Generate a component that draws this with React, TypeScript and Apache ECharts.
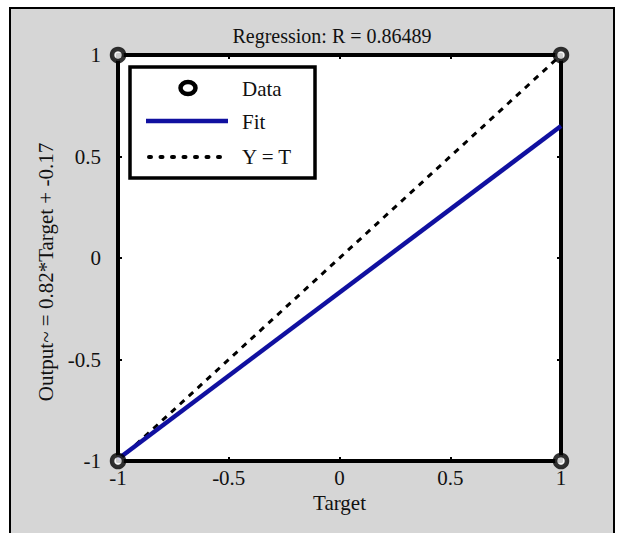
import React, { useEffect, useRef } from "react";
import * as echarts from "echarts";

const titleText = "Regression: R = 0.86489";
const xName = "Target";
const yName = "Output~ = 0.82*Target + -0.17";
const ticks = [-1, -0.5, 0, 0.5, 1];
const dataPoints: [number, number][] = [[-1, -1], [-1, 1], [1, 1], [1, -1]];
const fitLine: [number, number][] = [[-1, -0.99], [1, 0.65]];
const identityLine: [number, number][] = [[-1, -1], [1, 1]];
const legendNames = ["Data", "Fit", "Y = T"];

const FONT = "'Liberation Serif', 'Times New Roman', serif";
const BLUE = "#1010a0";

export default function App() {
  const ref = useRef<HTMLDivElement>(null);
  useEffect(() => {
    if (!ref.current) return;
    const chart = echarts.init(ref.current, null, { renderer: "svg" });
    const fmt = (v: number) => (ticks.includes(v) ? String(v) : "");
    const axisCommon = {
      type: "value" as const,
      min: -1,
      max: 1,
      interval: 0.5,
      splitLine: { show: false },
      axisLine: { show: true, onZero: false, lineStyle: { color: "#000", width: 4 } },
      axisTick: { show: true, inside: true, length: 4, lineStyle: { color: "#000", width: 2 } },
    };
    const legendFont = `21px ${FONT}`;
    chart.setOption({
      animation: false,
      backgroundColor: "#fff",
      textStyle: { fontFamily: FONT },
      graphic: [
        {
          type: "rect",
          z: -10,
          silent: true,
          shape: { x: 10, y: 8, width: 604, height: 540 },
          style: { fill: "#d6d6d6", stroke: "#000", lineWidth: 2 },
        },
        {
          type: "group",
          z: 100,
          children: [
            {
              type: "rect",
              shape: { x: 130, y: 67, width: 185, height: 111 },
              style: { fill: "#fff", stroke: "#000", lineWidth: 3.5 },
            },
            {
              type: "ellipse",
              shape: { cx: 188, cy: 88, rx: 7.5, ry: 6 },
              style: { fill: "#fff", stroke: "#000", lineWidth: 4.5 },
            },
            {
              type: "line",
              shape: { x1: 146, y1: 121, x2: 228, y2: 121 },
              style: { stroke: BLUE, lineWidth: 4.5 },
            },
            {
              type: "line",
              shape: { x1: 149, y1: 157, x2: 228, y2: 157 },
              style: { stroke: "#000", lineWidth: 4, lineDash: [2, 9.5], lineCap: "round" },
            },
            {
              type: "text",
              x: 242, y: 89,
              style: { text: legendNames[0], font: legendFont, fill: "#111", verticalAlign: "middle" },
            },
            {
              type: "text",
              x: 242, y: 122,
              style: { text: legendNames[1], font: legendFont, fill: "#111", verticalAlign: "middle" },
            },
            {
              type: "text",
              x: 242, y: 157,
              style: { text: legendNames[2], font: legendFont, fill: "#111", verticalAlign: "middle" },
            },
          ],
        },
      ],
      title: {
        text: titleText,
        left: 327,
        top: 21,
        textAlign: "center",
        textStyle: { fontFamily: FONT, fontSize: 20, fontWeight: "normal", color: "#111" },
      },
      grid: {
        left: 118,
        top: 55,
        width: 443,
        height: 406,
        show: true,
        backgroundColor: "#fff",
        borderColor: "#000",
        borderWidth: 0,
      },
      xAxis: [
        {
          ...axisCommon,
          position: "bottom",
          name: xName,
          nameLocation: "middle",
          nameGap: 27,
          nameTextStyle: { fontFamily: FONT, fontSize: 21, color: "#111" },
          axisLabel: { fontFamily: FONT, fontSize: 21, color: "#111", margin: 6, formatter: fmt },
        },
        {
          ...axisCommon,
          position: "top",
          axisLabel: { show: false },
        },
      ],
      yAxis: [
        {
          ...axisCommon,
          position: "left",
          name: yName,
          nameLocation: "middle",
          nameGap: 62,
          nameTextStyle: { fontFamily: FONT, fontSize: 21, color: "#111", padding: [0, 28, 0, 0] },
          axisLabel: { fontFamily: FONT, fontSize: 21, color: "#111", margin: 17, formatter: fmt },
        },
        {
          ...axisCommon,
          position: "right",
          axisLabel: { show: false },
        },
      ],
      series: [
        {
          name: legendNames[2],
          type: "line",
          data: identityLine,
          symbol: "none",
          lineStyle: { color: "#000", width: 3, type: [6, 6] },
          z: 3,
        },
        {
          name: legendNames[1],
          type: "line",
          data: fitLine,
          symbol: "none",
          lineStyle: { color: BLUE, width: 4.5 },
          z: 4,
        },
        {
          name: legendNames[0],
          type: "scatter",
          data: dataPoints,
          symbol: "circle",
          symbolSize: 12,
          itemStyle: { color: "#fff", borderColor: "#000", borderWidth: 4.5 },
          clip: false,
          z: 5,
        },
      ],
    });
    return () => chart.dispose();
  }, []);
  return (
    <div
      ref={ref}
      style={{ position: "fixed", left: 0, top: 0, width: 620, height: 533 }}
    />
  );
}
